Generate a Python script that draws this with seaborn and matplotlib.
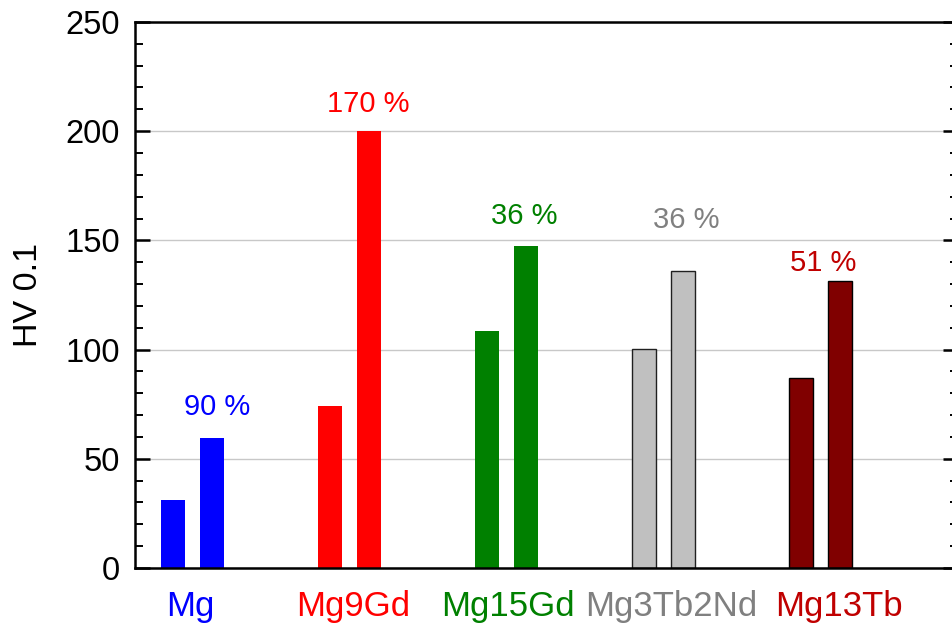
import matplotlib
matplotlib.use("Agg")
import matplotlib.pyplot as plt
from matplotlib.ticker import MultipleLocator
import pandas as pd
import seaborn as sns

# data
alloys = ["Mg", "Mg9Gd", "Mg15Gd", "Mg3Tb2Nd", "Mg13Tb"]
hv_before = [31.3, 74.2, 108.5, 100.2, 87.0]
hv_after = [59.5, 200.3, 147.2, 136.2, 131.3]
increase = ["90 %", "170 %", "36 %", "36 %", "51 %"]

bar_colors = ["#0000FF", "#FF0000", "#008000", "#C0C0C0", "#800000"]
text_colors = ["#0000FF", "#FF0000", "#008000", "#808080", "#C00000"]
edge_colors = [None, None, None, "#202020", "#000000"]

df = pd.DataFrame({
    "alloy": alloys * 2,
    "state": ["before"] * 5 + ["after"] * 5,
    "hv": hv_before + hv_after,
})

sns.set_style("white")
plt.rcParams["font.family"] = ["Liberation Sans", "DejaVu Sans"]
plt.rcParams["text.color"] = "black"
plt.rcParams["axes.labelcolor"] = "black"

fig = plt.figure(figsize=(9.52, 6.26), dpi=100)
ax = fig.add_axes([0.1418, 0.0927, 1.0063 - 0.1418, 0.9649 - 0.0927])

sns.barplot(data=df, x="alloy", y="hv", hue="state", dodge=True,
            width=0.497, gap=0.383, legend=False, ax=ax, zorder=2)

# colour each pair by alloy
for cont in ax.containers:
    for i, bar in enumerate(cont):
        bar.set_facecolor(bar_colors[i])
        if edge_colors[i] is None:
            bar.set_edgecolor(bar_colors[i])
            bar.set_linewidth(0)
        else:
            bar.set_edgecolor(edge_colors[i])
            bar.set_linewidth(1.0)

# percent increase labels above the second bar
label_dx = [0.032, -0.006, -0.013, 0.019, -0.108]
label_dy = [14.0, 12.3, 14.0, 23.0, 8.5]
after_bars = ax.containers[1]
for i, bar in enumerate(after_bars):
    xc = bar.get_x() + bar.get_width() / 2 + label_dx[i]
    ax.text(xc, bar.get_height() + label_dy[i], increase[i], color=text_colors[i],
            fontsize=21, ha="center", va="center")

ax.set_ylim(0, 250)
ax.set_xlim(-0.366, 4.876)
ax.yaxis.set_major_locator(MultipleLocator(50))
ax.yaxis.set_minor_locator(MultipleLocator(10))
ax.grid(axis="y", which="major", color="#C8C8C8", linewidth=1.0, zorder=0)
ax.set_axisbelow(True)

ax.tick_params(axis="y", which="major", direction="in", length=11, width=1.8,
               color="black", labelcolor="black",
               labelsize=23.5, pad=11, left=True, right=True)
ax.tick_params(axis="y", which="minor", direction="in", length=5.5, width=1.4,
               color="black", left=True, right=True)

xtick_dx = [-0.016, 0.025, 0.01, 0.051, 0.115]
ax.set_xticks([i + d for i, d in enumerate(xtick_dx)])
ax.set_xticklabels(alloys, fontsize=25)
ax.tick_params(axis="x", length=0, pad=16)
for lab, c in zip(ax.get_xticklabels(), text_colors):
    lab.set_color(c)

ax.set_xlabel("")
ax.set_ylabel("HV 0.1", fontsize=24.5, labelpad=15, color="black")

for sp in ax.spines.values():
    sp.set_visible(True)
    sp.set_color("black")
    sp.set_linewidth(1.8)

fig.savefig("out.png", dpi=100)
